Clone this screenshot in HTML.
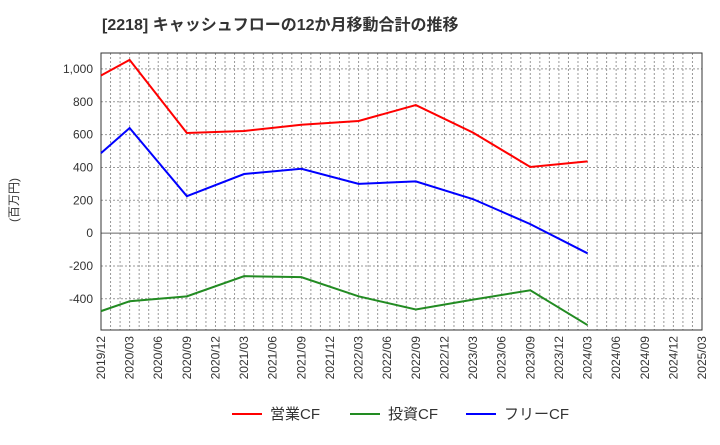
<!DOCTYPE html>
<html><head><meta charset="utf-8"><style>
body{margin:0;background:#fff;width:720px;height:440px;overflow:hidden;font-family:"Liberation Sans","Noto Sans CJK JP",sans-serif;}
</style></head><body>
<svg id="c" width="720" height="440" xmlns="http://www.w3.org/2000/svg" font-family="Liberation Sans, Noto Sans CJK JP, sans-serif">
<text x="102" y="30" font-size="16" font-weight="bold" fill="#333">[2218]  キャッシュフローの12か月移動合計の推移</text>
<text transform="translate(18,200) rotate(-90)" text-anchor="middle" font-size="12" fill="#333">(百万円)</text>
<g id="grid"></g><g id="axes"></g><g id="series"></g>
<g>
<line x1="232" y1="414" x2="262" y2="414" stroke="#f00" stroke-width="2"/><text x="270" y="419" font-size="15" fill="#333">営業CF</text>
<line x1="350" y1="414" x2="380" y2="414" stroke="#228b22" stroke-width="2"/><text x="388" y="419" font-size="15" fill="#333">投資CF</text>
<line x1="466" y1="414" x2="496" y2="414" stroke="#00f" stroke-width="2"/><text x="504" y="419" font-size="15" fill="#333">フリーCF</text>
</g>
</svg>
<script>
const categories=["2019/12","2020/03","2020/06","2020/09","2020/12","2021/03","2021/06","2021/09","2021/12","2022/03","2022/06","2022/09","2022/12","2023/03","2023/06","2023/09","2023/12","2024/03","2024/06","2024/09","2024/12","2025/03"];
const operatingCF=[960,1055,null,610,null,622,null,660,null,683,null,780,null,612,null,403,null,437];
const investingCF=[-475,-415,null,-385,null,-262,null,-268,null,-385,null,-465,null,-405,null,-348,null,-560];
const freeCF=[487,640,null,225,null,360,null,392,null,300,null,315,null,207,null,55,null,-123];
const yTicks=[-400,-200,0,200,400,600,800,1000];
const yTickLabels=["-400","-200","0","200","400","600","800","1,000"];
const L=101,R=702,T=53,B=330,vMin=-590,vMax=1097;
const NS="http://www.w3.org/2000/svg";
const xs=i=>L+(R-L)*i/(categories.length-1);
const ys=v=>B-(v-vMin)/(vMax-vMin)*(B-T);
function mk(tag,attrs,parent){const e=document.createElementNS(NS,tag);for(const k in attrs)e.setAttribute(k,attrs[k]);parent.appendChild(e);return e;}
const grid=document.getElementById('grid'),axes=document.getElementById('axes'),ser=document.getElementById('series');
const nMonths=(categories.length-1)*3;
for(let m=1;m<nMonths;m++){const x=L+(R-L)*m/nMonths;const l=mk('line',{x1:x,x2:x,y1:T,y2:B,stroke:'#999','stroke-dasharray':'2,2','stroke-width':1},grid);

}
yTicks.forEach((v,i)=>{const y=ys(v);const l=mk('line',{x1:L,x2:R,y1:y,y2:y,stroke:v===0?'#666':'#999','stroke-dasharray':v===0?'':'2,2','stroke-width':1},grid);


const t=mk('text',{x:L-8,y:y+4,'text-anchor':'end','font-size':12,fill:'#333'},axes);t.textContent=yTickLabels[i];

});
categories.forEach((c,i)=>{const x=xs(i);const t=mk('text',{transform:`translate(${x+4},${B+6}) rotate(-90)`,'text-anchor':'end','font-size':12,fill:'#333'},axes);t.textContent=c;

});
const fr=mk('rect',{x:L,y:T,width:R-L,height:B-T,fill:'none',stroke:'#333','stroke-width':1},axes);


function line(arr,color,name){const pts=[];arr.forEach((v,i)=>{if(v!==null)pts.push(xs(i)+','+ys(v));});
const p=mk('polyline',{points:pts.join(' '),fill:'none',stroke:color,'stroke-width':2},ser);

}
line(operatingCF,'#f00','operating-cf-line');
line(investingCF,'#228b22','investing-cf-line');
line(freeCF,'#00f','free-cf-line');
</script>
</body></html>
